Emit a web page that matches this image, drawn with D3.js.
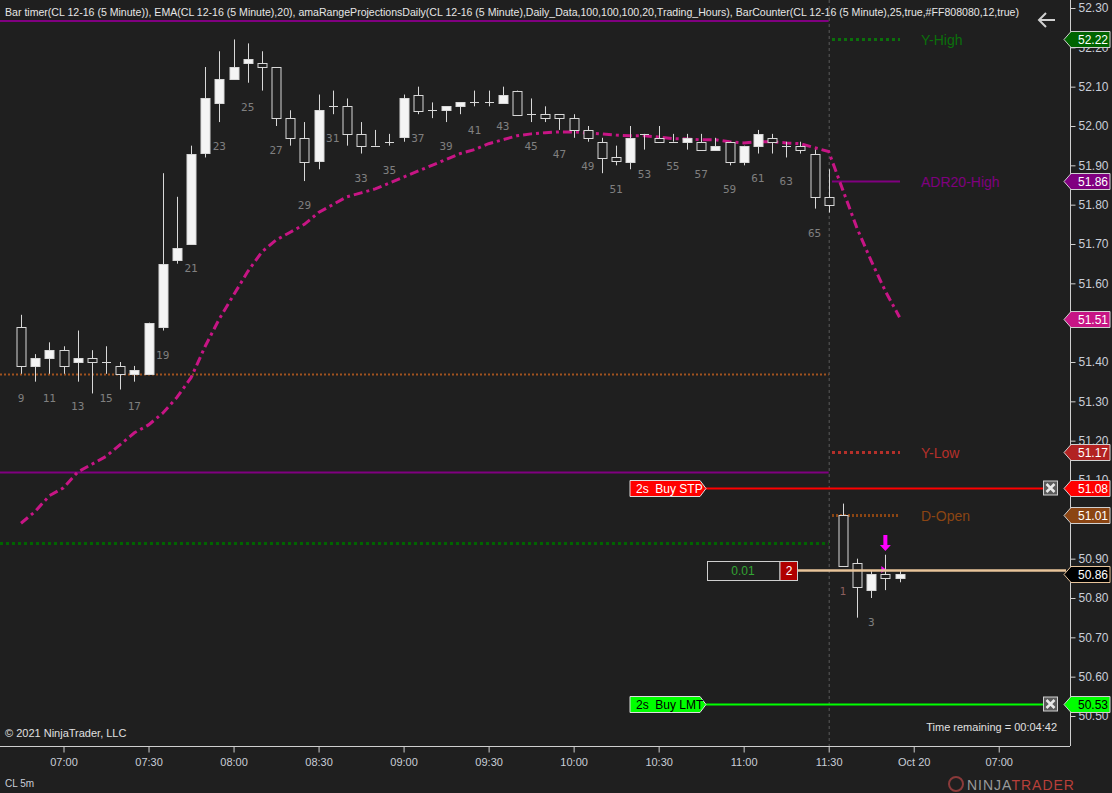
<!DOCTYPE html>
<html><head><meta charset="utf-8">
<script src="https://cdn.jsdelivr.net/npm/d3@7"></script>
<style>
html,body{margin:0;padding:0;background:#1f1f1f;overflow:hidden;}
svg{display:block;}
</style></head><body>
<svg id="chart" width="1112" height="793"></svg>
<script>
// ---------- DATA ----------
const barNumbers = [9,10,11,12,13,14,15,16,17,18,19,20,21,22,23,24,25,26,27,28,29,30,31,32,33,34,35,36,37,38,39,40,41,42,43,44,45,46,47,48,49,50,51,52,53,54,55,56,57,58,59,60,61,62,63,64,65,66,1,2,3,4,5];
const opens  = [51.49,51.39,51.41,51.43,51.40,51.41,51.40,51.39,51.37,51.37,51.49,51.66,51.70,51.93,52.06,52.12,52.16,52.16,52.15,52.02,51.97,51.91,52.05,52.05,51.98,51.95,51.96,51.97,52.08,52.04,52.04,52.05,52.06,52.06,52.06,52.09,52.03,52.03,52.03,52.02,51.99,51.96,51.92,51.91,51.98,51.97,51.96,51.96,51.96,51.94,51.96,51.91,51.95,51.97,51.95,51.95,51.93,51.82,51.01,50.89,50.82,50.86,50.85];
const highs  = [51.52,51.42,51.45,51.44,51.48,51.43,51.44,51.40,51.39,51.50,51.88,51.82,51.95,52.15,52.19,52.22,52.21,52.19,52.15,52.04,52.01,52.08,52.09,52.07,52.01,51.99,51.98,52.08,52.10,52.06,52.05,52.06,52.09,52.09,52.10,52.09,52.07,52.05,52.03,52.03,52.00,51.97,51.95,52.00,51.98,52.00,51.98,51.98,51.98,51.97,51.96,51.95,51.99,51.98,51.96,51.96,51.94,51.89,51.04,50.90,50.87,50.91,50.87];
const lows   = [51.37,51.35,51.37,51.37,51.35,51.32,51.37,51.33,51.35,51.37,51.48,51.65,51.70,51.92,52.01,52.12,52.11,52.09,52.00,51.95,51.86,51.89,52.03,51.95,51.93,51.95,51.95,51.96,52.03,52.02,52.01,52.03,52.05,52.05,52.06,52.03,52.01,52.01,51.99,51.97,51.96,51.88,51.90,51.89,51.94,51.96,51.96,51.94,51.94,51.94,51.90,51.90,51.93,51.93,51.92,51.93,51.79,51.78,50.88,50.75,50.80,50.82,50.84];
const closes = [51.39,51.41,51.43,51.39,51.41,51.40,51.40,51.37,51.38,51.50,51.65,51.69,51.93,52.07,52.12,52.15,52.17,52.15,52.02,51.97,51.91,52.04,52.05,51.98,51.95,51.95,51.96,52.07,52.04,52.04,52.05,52.06,52.06,52.06,52.08,52.03,52.03,52.02,52.02,51.99,51.97,51.92,51.91,51.97,51.98,51.96,51.96,51.97,51.94,51.95,51.91,51.95,51.98,51.96,51.95,51.94,51.82,51.80,50.88,50.83,50.86,50.85,50.86];
const ema20  = [50.99,51.02,51.06,51.08,51.12,51.14,51.16,51.19,51.22,51.24,51.27,51.31,51.36,51.44,51.51,51.57,51.63,51.68,51.71,51.73,51.75,51.78,51.80,51.82,51.83,51.84,51.855,51.87,51.885,51.90,51.915,51.93,51.94,51.955,51.965,51.975,51.98,51.983,51.985,51.985,51.982,51.98,51.977,51.975,51.975,51.972,51.968,51.967,51.965,51.965,51.96,51.957,51.96,51.96,51.957,51.955,51.945,51.935,51.837,51.74,51.657,51.58,51.514];
const timeTickIndex  = [12,18,24,30,36,42,48,54,60,66,72,78];
const timeTickLabels = ["07:00","07:30","08:00","08:30","09:00","09:30","10:00","10:30","11:00","11:30","Oct 20","07:00"];
const priceTicks = [50.5,50.6,50.7,50.8,50.9,51.0,51.1,51.2,51.3,51.4,51.5,51.6,51.7,51.8,51.9,52.0,52.1,52.2,52.3];
// previous-day projection levels drawn across session 1
const prevLevelValues = [51.37, 51.12, 50.94];
const prevLevelColors = ["#a0521f", "#800080", "#006400"];
const prevLevelDash   = ["2,2", null, "3,3"];
// current-day projections
const projNames  = ["Y-High","ADR20-High","Y-Low","D-Open"];
const projValues = [52.22, 51.86, 51.17, 51.01];
const projColors = ["#0b700b", "#800080", "#b5302a", "#8b4513"];
const projDash   = ["3,3", null, "3,3", "2,2"];
// price markers on the axis
const tagValues  = [52.22, 51.86, 51.51, 51.17, 51.08, 51.01, 50.86, 50.53];
const tagFill    = ["#006400","#800080","#c71585","#b22222","#ff0000","#8b4513","#000000","#00ff00"];
const tagText    = ["#ffffff","#ffffff","#ffffff","#ffffff","#ffffff","#ffffff","#ffffff","#000000"];
// orders
const orderLabels = ["2s  Buy STP","2s  Buy LMT"];
const orderValues = [51.08, 50.53];
const orderColors = ["#ff0000","#00ff00"];
const orderTextColors = ["#ffffff","#000000"];
const positionPrice = 50.86;
const positionPnL = "0.01";
const positionQty = "2";
const headerText = "Bar timer(CL 12-16 (5 Minute)), EMA(CL 12-16 (5 Minute),20), amaRangeProjectionsDaily(CL 12-16 (5 Minute),Daily_Data,100,100,100,20,Trading_Hours), BarCounter(CL 12-16 (5 Minute),25,true,#FF808080,12,true)";

// ---------- LAYOUT ----------
const W = 1112, H = 793;
const plotRight = 1070, plotBottom = 746;
const sessionBreakIndex = 66;
const bars = barNumbers.map((n,i)=>({idx: 9+i, num:n, o:opens[i], h:highs[i], l:lows[i], c:closes[i], ema:ema20[i]}));
const lastIdx = 9 + barNumbers.length - 1;

const x = d3.scaleLinear().domain([9, 71]).range([21, 21 + 62*14.17]);
const y = d3.scaleLinear().domain([50.5, 52.3]).range([716, 8]);

const svg = d3.select("#chart");
svg.append("rect").attr("width",W).attr("height",H).attr("fill","#1f1f1f");

const font = "Arial, 'Liberation Sans', sans-serif";

// header purple line + text
svg.append("line").attr("x1",0).attr("x2",x(sessionBreakIndex)).attr("y1",21).attr("y2",21)
  .attr("stroke","#800080").attr("stroke-width",2);
svg.append("text").attr("x",5).attr("y",16).attr("fill","#e6e6e6")
  .attr("font-family",font).attr("font-size",11).attr("textLength",1014).attr("lengthAdjust","spacingAndGlyphs")
  .text(headerText);

// session break
svg.append("line").attr("x1",x(sessionBreakIndex)+0.5).attr("x2",x(sessionBreakIndex)+0.5)
  .attr("y1",0).attr("y2",plotBottom).attr("stroke","#5a5a5a").attr("stroke-dasharray","3,3").attr("stroke-width",1);

// previous day levels
prevLevelValues.forEach((v,i)=>{
  svg.append("line").attr("x1",0).attr("x2",x(sessionBreakIndex))
    .attr("y1",Math.round(y(v))+0.5).attr("y2",Math.round(y(v))+0.5)
    .attr("stroke",prevLevelColors[i]).attr("stroke-width", i===2?3:2)
    .attr("stroke-dasharray",prevLevelDash[i]);
});

// projections on the right
projValues.forEach((v,i)=>{
  const yy = Math.round(y(v))+0.5;
  svg.append("line").attr("x1",832).attr("x2",900).attr("y1",yy).attr("y2",yy)
    .attr("stroke",projColors[i]).attr("stroke-width", i===1?2:3).attr("stroke-dasharray",projDash[i]);
  svg.append("text").attr("x",921).attr("y",yy+5).attr("fill",projColors[i])
    .attr("font-family",font).attr("font-size",14).text(projNames[i]);
});

// EMA
const emaLine = d3.line().x(d=>x(d.idx)).y(d=>y(d.ema));
svg.append("path").datum(bars).attr("d",emaLine).attr("fill","none")
  .attr("stroke","#c71585").attr("stroke-width",3).attr("stroke-dasharray","9,4,3,4");

// candles
const cg = svg.append("g");
bars.forEach(b=>{
  const cx = Math.round(x(b.idx))+0.5;
  cg.append("line").attr("x1",cx).attr("x2",cx).attr("y1",y(b.h)).attr("y2",y(b.l))
    .attr("stroke","#d8d8d8").attr("stroke-width",1);
  const top = y(Math.max(b.o,b.c)), bot = y(Math.min(b.o,b.c));
  if (Math.abs(b.o-b.c) < 0.001) {
    cg.append("line").attr("x1",cx-4.5).attr("x2",cx+4.5).attr("y1",Math.round(top)+0.5).attr("y2",Math.round(top)+0.5)
      .attr("stroke","#d8d8d8").attr("stroke-width",1);
  } else {
    cg.append("rect").attr("x",cx-4.5).attr("width",9).attr("y",Math.round(top)+0.5).attr("height",Math.max(1,Math.round(bot-top)))
      .attr("fill", b.c > b.o ? "#f4f4f4" : "#1f1f1f").attr("stroke","#d8d8d8").attr("stroke-width",1);
  }
  if (b.num % 2 === 1 && b.idx !== lastIdx) {
    svg.append("text").attr("x",x(b.idx)).attr("y",y(b.l)+28).attr("text-anchor","middle")
      .attr("fill", (b.idx===67) ? "#8a5e5e" : "#808080")
      .attr("font-family","'DejaVu Sans Mono', monospace").attr("font-size",11).text(b.num);
  }
});

// signal arrow above bar 4 of new session
const ai = 70;
const ax = x(ai);
svg.append("path").attr("d",`M${ax-2},535 h4 v10 h3.5 l-5.5,6 l-5.5,-6 h3.5 z`).attr("fill","#ff00ff");
svg.append("path").attr("d",`M${ax-4},566 l4.5,3.5 l-4.5,3.5 z`).attr("fill","#ff00ff");

// orders
orderValues.forEach((v,i)=>{
  const yy = Math.round(y(v))+0.5;
  svg.append("line").attr("x1",706).attr("x2",1043).attr("y1",yy).attr("y2",yy)
    .attr("stroke",orderColors[i]).attr("stroke-width",2);
  svg.append("path").attr("d",`M630,${yy-8} H700 L706,${yy} L700,${yy+8} H630 Z`)
    .attr("fill",orderColors[i]).attr("stroke","#dddddd").attr("stroke-width",1);
  svg.append("text").attr("x",636).attr("y",yy+4.5).attr("fill",orderTextColors[i])
    .attr("font-family",font).attr("font-size",12).attr("xml:space","preserve").style("white-space","pre").text(orderLabels[i]);
  // close button
  svg.append("rect").attr("x",1043.5).attr("y",yy-7.5).attr("width",14).attr("height",14)
    .attr("fill","#5a5a5a").attr("stroke","#d0d0d0").attr("stroke-width",1);
  svg.append("path").attr("d",`M1046.5,${yy-4.5} L1054.5,${yy+3.5} M1054.5,${yy-4.5} L1046.5,${yy+3.5}`)
    .attr("stroke","#e8e8e8").attr("stroke-width",2.5);
});

// position
{
  const yy = Math.round(y(positionPrice))-4+0.5;
  svg.append("line").attr("x1",797).attr("x2",1066).attr("y1",yy).attr("y2",yy)
    .attr("stroke","#e8c49a").attr("stroke-width",2.5);
  svg.append("rect").attr("x",707.5).attr("y",yy-9).attr("width",72.5).attr("height",19)
    .attr("fill","#1f1f1f").attr("stroke","#cfcfcf");
  svg.append("rect").attr("x",780).attr("y",yy-9).attr("width",17.5).attr("height",19)
    .attr("fill","#b00000").attr("stroke","#cfcfcf");
  svg.append("text").attr("x",743).attr("y",yy+4.5).attr("text-anchor","middle").attr("fill","#33a533")
    .attr("font-family",font).attr("font-size",12).text(positionPnL);
  svg.append("text").attr("x",789).attr("y",yy+4.5).attr("text-anchor","middle").attr("fill","#ffffff")
    .attr("font-family",font).attr("font-size",12).text(positionQty);
}

// axes frame
svg.append("line").attr("x1",plotRight+0.5).attr("x2",plotRight+0.5).attr("y1",0).attr("y2",plotBottom)
  .attr("stroke","#cfcfcf");
svg.append("line").attr("x1",0).attr("x2",plotRight).attr("y1",plotBottom+0.5).attr("y2",plotBottom+0.5)
  .attr("stroke","#cfcfcf");

// right axis
const yAxis = d3.axisRight(y).tickValues(priceTicks).tickFormat(d3.format(".2f")).tickSize(5).tickPadding(3);
const ya = svg.append("g").attr("transform",`translate(${plotRight+0.5},0)`).call(yAxis);
ya.select(".domain").remove();
ya.selectAll("line").attr("stroke","#cfcfcf");
ya.selectAll("text").attr("fill","#c9ced8").attr("font-family",font).attr("font-size",12);

// bottom axis
const xAxis = d3.axisBottom(x).tickValues(timeTickIndex).tickFormat((d,i)=>timeTickLabels[i]).tickSize(6).tickPadding(6);
const xa = svg.append("g").attr("transform",`translate(0,${plotBottom+0.5})`).call(xAxis);
xa.select(".domain").remove();
xa.selectAll("line").attr("stroke","#cfcfcf");
xa.selectAll("text").attr("fill","#c9ced8").attr("font-family",font).attr("font-size",11);

// price tags
tagValues.forEach((v,i)=>{
  const yy = Math.round(y(v))+0.5;
  svg.append("path").attr("d",`M1064,${yy} L1071,${yy-8} H1110 V${yy+8} H1071 Z`)
    .attr("fill",tagFill[i]).attr("stroke", i===6 ? "#e8c49a" : "#d0d0d0").attr("stroke-width",1);
  svg.append("text").attr("x",1078).attr("y",yy+4.5).attr("fill",tagText[i])
    .attr("font-family",font).attr("font-size",12).text(d3.format(".2f")(v));
});

// back arrow
svg.append("path").attr("d","M1055,20 H1039 M1046,13 L1039,20 L1046,27").attr("fill","none")
  .attr("stroke","#d0d0d0").attr("stroke-width",2);

// footer texts
svg.append("text").attr("x",5).attr("y",737).attr("fill","#e0e0e0").attr("font-family",font).attr("font-size",11)
  .text("© 2021 NinjaTrader, LLC");
svg.append("text").attr("x",1057).attr("y",731).attr("text-anchor","end").attr("fill","#e0e0e0").attr("font-family",font).attr("font-size",11)
  .text("Time remaining = 00:04:42");
svg.append("text").attr("x",5).attr("y",787).attr("fill","#c9ced8").attr("font-family",font).attr("font-size",10).text("CL 5m");
// logo
svg.append("circle").attr("cx",956).attr("cy",784).attr("r",7).attr("fill","none").attr("stroke","#8a3a3a").attr("stroke-width",2);
const logo = svg.append("text").attr("x",967).attr("y",790).attr("font-family",font).attr("font-size",14).attr("letter-spacing",1);
logo.append("tspan").attr("fill","#9a9a9a").text("NINJA");
logo.append("tspan").attr("fill","#b8403a").text("TRADER");
</script>
</body></html>
